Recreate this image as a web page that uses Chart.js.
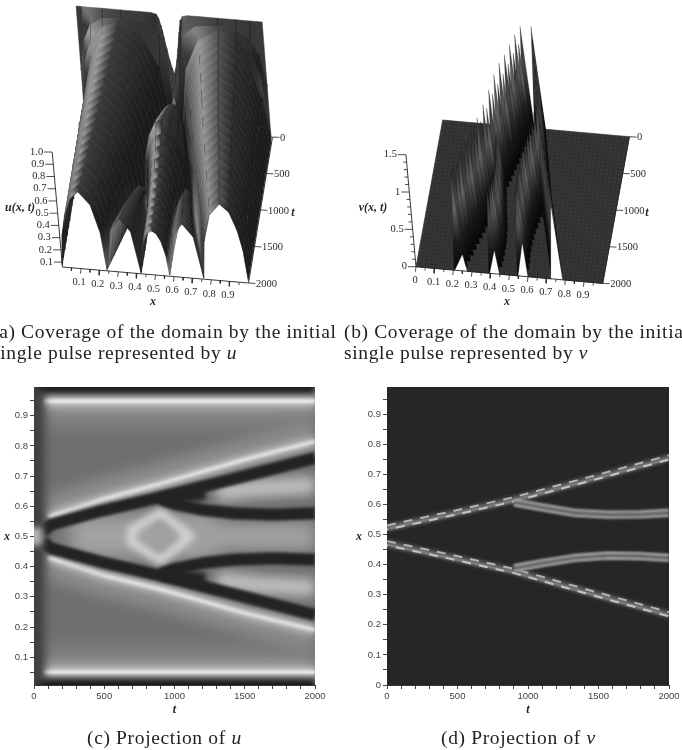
<!DOCTYPE html>
<html>
<head>
<meta charset="utf-8">
<title>Projection of u and v</title>
<script src="https://cdn.jsdelivr.net/npm/chart.js@4/dist/chart.umd.min.js"></script>
<style>
html,body{margin:0;padding:0;background:#fff;width:682px;height:750px;overflow:hidden}
canvas{position:absolute;left:0;top:0}
.cap{position:absolute;white-space:nowrap;font-family:"Liberation Serif",serif;font-size:19.5px;color:#222;letter-spacing:.65px}
</style>
</head>
<body>
<canvas id="panelA" width="682" height="750"></canvas>
<canvas id="panelB" width="682" height="750"></canvas>
<canvas id="panelC" width="682" height="750"></canvas>
<canvas id="panelD" width="682" height="750"></canvas>
<div class="cap" style="left:-8px;top:321px">(a) Coverage of the domain by the initial</div>
<div class="cap" style="left:-8px;top:342px">single pulse represented by <i>u</i></div>
<div class="cap" style="left:344px;top:321px">(b) Coverage of the domain by the initial</div>
<div class="cap" style="left:344px;top:342px">single pulse represented by <i>v</i></div>
<div class="cap" style="left:87px;top:727px">(c) Projection of <i>u</i></div>
<div class="cap" style="left:441px;top:727px">(d) Projection of <i>v</i></div>
<script>
// surface u: time slices, left half only (right half is the mirror image)
var uSliceT = [0,40,80,120,200,300,400,500,600,700,800,900,1000,1100,1200,1300,1400,1500,1600,1700,1800,1900,2000];
var uKnotX = [
	[0,.03,.07,.14,.24,.34,.4,.43,.44,.45,.455,.46,.47,.48,.49,.5],
	[0,.03,.07,.14,.24,.36,.44,.48,.48,.48,.48,.48,.484,.488,.494,.5],
	[0,.028,.07,.14,.235,.35,.43,.47,.47,.47,.47,.47,.475,.482,.491,.5],
	[0,.028,.069,.138,.23,.345,.423,.46,.46,.46,.46,.46,.466,.476,.488,.5],
	[0,.027,.067,.135,.225,.337,.413,.449,.449,.449,.449,.449,.457,.469,.485,.5],
	[0,.027,.066,.132,.22,.329,.403,.438,.438,.438,.438,.438,.448,.463,.482,.5],
	[0,.026,.064,.128,.214,.32,.393,.427,.427,.427,.427,.427,.438,.456,.478,.5],
	[0,.025,.063,.125,.209,.312,.383,.416,.416,.416,.416,.416,.429,.45,.475,.5],
	[0,.024,.061,.122,.203,.304,.373,.405,.405,.405,.405,.405,.419,.443,.472,.5],
	[0,.024,.06,.119,.198,.296,.363,.395,.395,.395,.395,.395,.41,.437,.469,.5],
	[0,.023,.058,.115,.192,.288,.353,.384,.384,.384,.384,.384,.401,.43,.465,.5],
	[0,.022,.056,.112,.187,.28,.343,.373,.373,.373,.373,.373,.392,.424,.462,.5],
	[0,.022,.054,.109,.181,.272,.333,.362,.369,.379,.388,.395,.411,.437,.469,.5],
	[0,.021,.053,.105,.175,.263,.322,.35,.36,.376,.391,.402,.417,.441,.471,.5],
	[0,.02,.051,.101,.169,.253,.31,.337,.352,.374,.395,.41,.424,.446,.473,.5],
	[0,.02,.049,.098,.163,.244,.299,.325,.343,.37,.397,.415,.428,.449,.475,.5],
	[0,.019,.047,.094,.156,.234,.287,.312,.334,.366,.398,.42,.432,.452,.476,.5],
	[0,.018,.045,.09,.15,.225,.276,.3,.325,.361,.397,.422,.434,.453,.477,.5],
	[0,.017,.043,.086,.144,.216,.265,.288,.315,.356,.396,.423,.435,.454,.477,.5],
	[0,.017,.042,.083,.138,.207,.254,.276,.306,.35,.393,.423,.435,.454,.477,.5],
	[0,.016,.04,.079,.132,.198,.243,.264,.296,.344,.391,.423,.435,.454,.477,.5],
	[0,.015,.038,.076,.126,.189,.232,.252,.287,.338,.388,.423,.435,.454,.477,.5],
	[0,.014,.036,.072,.12,.18,.221,.24,.277,.332,.386,.423,.435,.454,.477,.5]
];
var uKnotU = [
	[1,1,1,1,1,1,1,.99,.96,.9,.86,.81,.72,.63,.56,.51],
	[.5,.75,.88,.94,.96,.94,.85,.3,.3,.3,.3,.3,.32,.33,.34,.35],
	[.1,.6,.78,.9,.95,.85,.6,.15,.15,.15,.15,.15,.2,.26,.29,.3],
	[.08,.431,.658,.862,.95,.809,.492,.07,.07,.07,.07,.07,.176,.246,.287,.3],
	[.08,.427,.651,.853,.94,.801,.488,.07,.07,.07,.07,.07,.213,.307,.363,.38],
	[.08,.42,.641,.84,.925,.789,.48,.07,.07,.07,.07,.07,.241,.353,.42,.44],
	[.08,.414,.631,.826,.91,.776,.473,.07,.07,.07,.07,.07,.268,.399,.476,.5],
	[.08,.409,.622,.815,.898,.766,.467,.07,.07,.07,.07,.07,.287,.43,.514,.54],
	[.08,.404,.614,.804,.885,.755,.461,.07,.07,.07,.07,.07,.305,.46,.552,.58],
	[.08,.398,.604,.79,.87,.742,.454,.07,.07,.07,.07,.07,.321,.487,.585,.615],
	[.08,.392,.594,.777,.855,.729,.447,.07,.07,.07,.07,.07,.337,.514,.618,.65],
	[.08,.386,.584,.763,.84,.717,.44,.07,.07,.07,.07,.07,.351,.537,.646,.68],
	[.08,.382,.578,.754,.83,.708,.435,.07,.131,.15,.131,.07,.323,.491,.59,.62],
	[.08,.375,.568,.74,.815,.696,.428,.07,.19,.225,.19,.07,.307,.464,.557,.585],
	[.08,.369,.558,.727,.8,.683,.42,.07,.246,.3,.246,.07,.291,.437,.524,.55],
	[.08,.363,.548,.713,.785,.67,.413,.07,.277,.34,.277,.07,.28,.418,.5,.525],
	[.08,.357,.538,.7,.77,.658,.406,.07,.307,.38,.307,.07,.268,.399,.476,.5],
	[.08,.351,.528,.686,.755,.645,.399,.07,.326,.405,.326,.07,.258,.384,.458,.48],
	[.08,.345,.518,.673,.74,.633,.392,.07,.345,.43,.345,.07,.249,.368,.439,.46],
	[.08,.338,.508,.66,.725,.62,.385,.07,.36,.45,.36,.07,.245,.36,.43,.45],
	[.08,.332,.498,.646,.71,.608,.377,.07,.376,.47,.376,.07,.24,.353,.42,.44],
	[.08,.328,.491,.637,.7,.6,.372,.07,.388,.485,.388,.07,.236,.345,.41,.43],
	[.08,.324,.484,.628,.69,.591,.368,.07,.399,.5,.399,.07,.231,.338,.401,.42]
];

// surface v: narrow spikes on a flat floor
var vSpikeT = [20,100,180,260,340,420,500,580,660,740,820,900,980,1060,1140,1220,1300,1380,1460,1540,1620,1700,1780,1860,1940,2000];
var vLowerX = [.465,.457,.449,.441,.433,.425,.418,.41,.402,.394,.386,.378,.368,.357,.347,.336,.326,.315,.305,.294,.284,.273,.263,.252,.242,.234];
var vLowerH = [1.38,1.22,1.42,1.25,1.44,1.26,1.46,1.28,1.5,1.3,1.5,1.32,1.45,1.28,1.4,1.26,1.38,1.3,1.36,1.3,1.36,1.32,1.35,1.32,1.35,1.33];
var vUpperX = [.524,.533,.541,.55,.558,.567,.576,.584,.593,.601,.61,.616,.626,.636,.646,.656,.667,.677,.687,.697,.707,.717,.727,.737,.747,.755];
var vUpperH = [1.39,1.3,1.35,1.25,1.3,1.22,1.3,1.22,1.32,1.25,1.35,1.3,1.2,1.15,1.2,1.15,1.2,1.18,1.25,1.2,1.25,1.22,1.3,1.25,1.3,1.3];
var vBranchT = [940,1020,1100,1180,1260,1340,1420,1500,1580,1660,1740,1820,1900,2000];
var vBranchLowX = [.383,.388,.394,.4,.408,.414,.42,.424,.428,.43,.43,.428,.425,.42];
var vBranchLowH = [.85,.86,.88,.9,.93,.95,.98,1,1.03,1.05,1.08,1.1,1.12,1.15];
var vBranchUpX = [.613,.605,.598,.59,.584,.578,.572,.568,.566,.565,.566,.568,.57,.572];
var vBranchUpH = [1.25,1.24,1.22,1.2,1.2,1.18,1.17,1.16,1.15,1.15,1.15,1.15,1.15,1.15];
// white notches at the front edge of the floor: left x, tip x, right x, tip t
var vNotchLeft = [.209,.396,.548,.727];
var vNotchTipX = [.233,.398,.539,.656];
var vNotchRight = [.273,.446,.598,.784];
var vNotchTipT = [1788,1702,1576,1058];

// axis ticks
var uTicks = [.1,.2,.3,.4,.5,.6,.7,.8,.9,1];
var uTickText = ["0.1","0.2","0.3","0.4","0.5","0.6","0.7","0.8","0.9","1.0"];
var xTicks3d = [.1,.2,.3,.4,.5,.6,.7,.8,.9];
var xMinor3d = [.05,.15,.25,.35,.45,.55,.65,.75,.85,.95];
var tTicks3d = [0,500,1000,1500,2000];
var vTicks = [0,.5,1,1.5];
var vTickText = ["0","0.5","1","1.5"];
var vMinor = [.1,.2,.3,.4,.6,.7,.8,.9,1.1,1.2,1.3,1.4];
var tAxisTicks = [0,100,200,300,400,500,600,700,800,900,1000,1100,1200,1300,1400,1500,1600,1700,1800,1900,2000];
var xAxisTicksC = [.05,.1,.15,.2,.25,.3,.35,.4,.45,.5,.55,.6,.65,.7,.75,.8,.85,.9,.95];
var xAxisTicksD = [0,.05,.1,.15,.2,.25,.3,.35,.4,.45,.5,.55,.6,.65,.7,.75,.8,.85,.9,.95];

// panel c: tracks of the bands, t then x
var cTrackT = [100,500,900,1500,2000];
var cUpperWhite = [.565,.625,.675,.755,.815];
var cLowerWhite = [.43,.37,.325,.246,.19];
var cDarkT = [60,120,480,900,1500,2000];
var cUpperDark = [.515,.539,.585,.63,.7,.76];
var cLowerDark = [.485,.461,.415,.37,.3,.24];
var cBranchT = [900,1000,1200,1420,1700,2000];
var cUpperBranch = [.625,.607,.588,.577,.572,.577];
var cLowerBranch = [.375,.393,.412,.423,.428,.423];
var cWedgeT = [900,1050,1220];
var cUpperWedge = [.625,.63,.638];
var cLowerWedge = [.375,.37,.362];
var cDiamondT = [695,800,900,1110,900,800,695,695];
var cDiamondX = [.48,.45,.42,.5,.58,.55,.52,.48];
var cLobeT = [1300,1600,2000];
var cUpperLobe = [.645,.66,.67];
var cLowerLobe = [.355,.34,.33];

// panel d: tracks of the ridges
var dMainT = [0,450,900,1450,2000];
var dUpperRidge = [.522,.568,.616,.685,.755];
var dLowerRidge = [.47,.425,.378,.305,.234];
var dBranchT = [900,1100,1330,1560,1800,2000];
var dUpperBranch = [.607,.59,.572,.566,.567,.572];
var dLowerBranch = [.388,.405,.422,.43,.428,.422];

var serifTick = "10.5px 'Liberation Serif'";
var axisBold = "bold italic 12px 'Liberation Serif'";

// draws tick labels and axis letters, positions go through the chart's scales
var textPlugin = {
	id: 'panelText',
	afterDraw: function(chart, args, opts) {
		var ctx = chart.ctx;
		ctx.save();
		ctx.textBaseline = 'middle';
		opts.items.forEach(function(it) {
			ctx.font = it.font;
			ctx.fillStyle = it.color || '#2a2a2a';
			ctx.textAlign = it.align || 'center';
			var px = opts.raw ? it.x : chart.scales.x.getPixelForValue(it.x);
			var py = opts.raw ? it.y : chart.scales.y.getPixelForValue(it.y);
			ctx.fillText(it.text, px, py);
		});
		ctx.restore();
	}
};

// soft edges for the projection bands
var blurPlugin = {
	id: 'bandBlur',
	beforeDatasetDraw: function(chart, args) {
		var ds = chart.data.datasets[args.index];
		chart.ctx.save();
		if (ds.blur) chart.ctx.filter = 'blur(' + ds.blur + 'px)';
	},
	afterDatasetDraw: function(chart) {
		chart.ctx.restore();
	}
};

var areaColor = {
	id: 'areaColor',
	beforeDatasetsDraw: function(chart, args, opts) {
		var a = chart.chartArea;
		chart.ctx.fillStyle = opts.color;
		chart.ctx.fillRect(a.left, a.top, a.width, a.height);
	}
};

function oblique(o, ax, at, az, base) {
	return function(x, t, z) {
		var f = 1 - t / 2000;
		return { x: o[0] + ax[0] * x + at[0] * f + az[0] * (z - base), y: o[1] + ax[1] * x + at[1] * f + az[1] * (z - base) };
	};
}
var projU = oblique([62.5, 267], [186, 16], [24, -146], [-11, -122.3], .06);
var projV = oblique([416, 266.7], [186.7, 16.7], [26.7, -146.7], [-6.7, -74.7], 0);

function lineSet(pts, color, width, extra) {
	var d = { data: pts, showLine: true, borderColor: color, borderWidth: width, pointRadius: 0, fill: false, clip: false };
	return Object.assign(d, extra || {});
}
function polySet(pts, color, edge, edgeWidth) {
	return { data: pts, showLine: true, backgroundColor: color, borderColor: edge, borderWidth: edgeWidth, pointRadius: 0, fill: 'shape', clip: false };
}

function pixelOptions(items) {
	return {
		responsive: false, animation: false, events: [],
		layout: { padding: 0 },
		scales: {
			x: { type: 'linear', min: 0, max: 682, display: false },
			y: { type: 'linear', min: 0, max: 750, reverse: true, display: false }
		},
		plugins: { legend: { display: false }, tooltip: { enabled: false }, panelText: { items: items } }
	};
}

function grayOf(g) {
	g = Math.round(g);
	return 'rgb(' + g + ',' + g + ',' + g + ')';
}

// shade at a surface knot from its slope across x, light comes from the left
function knotGray(slope, slopeT) {
	if (slopeT > .004) return 56;
	if (slope <= 0) return slope > -1 ? 62 + slope * 14 : Math.max(26, 48 + (slope + 1) * 4);
	if (slope < 1.5) return 62 + slope * 68;
	if (slope < 3) return 164 - (slope - 1.5) * 10;
	return Math.max(30, 149 - (slope - 3) * 15);
}

function fullRow(row, flip) {
	var back = row.slice(0, -1).reverse();
	return row.concat(flip ? back.map(function(v) { return 1 - v; }) : back);
}

function rowSlope(xs, us, j) {
	var lo = Math.max(j - 1, 0), hi = Math.min(j + 1, xs.length - 1);
	var dx = xs[hi] - xs[lo];
	return dx > 1e-4 ? (us[hi] - us[lo]) / dx : 0;
}

// ---- panel a
function surfaceSets() {
	var sets = [];
	var paint = document.getElementById('panelA').getContext('2d');
	var xs = uKnotX.map(function(r) { return fullRow(r, true); });
	var us = uKnotU.map(function(r) { return fullRow(r, false); });
	for (var i = 0; i < uSliceT.length - 1; i++) {
		var t0 = uSliceT[i], t1 = uSliceT[i + 1];
		var st = [];
		for (var j = 0; j < xs[i].length; j++) st.push((us[i][j] - us[i + 1][j]) / (t1 - t0));
		for (j = 0; j < xs[i].length - 1; j++) {
			if (xs[i][j + 1] - xs[i][j] < 1e-4 && xs[i + 1][j + 1] - xs[i + 1][j] < 1e-4) continue;
			var a = projU(xs[i][j], t0, us[i][j]), b = projU(xs[i][j + 1], t0, us[i][j + 1]);
			var c = projU(xs[i + 1][j + 1], t1, us[i + 1][j + 1]), d = projU(xs[i + 1][j], t1, us[i + 1][j]);
			var gl = (knotGray(rowSlope(xs[i], us[i], j), st[j]) + knotGray(rowSlope(xs[i + 1], us[i + 1], j), st[j])) / 2;
			var gr = (knotGray(rowSlope(xs[i], us[i], j + 1), st[j + 1]) + knotGray(rowSlope(xs[i + 1], us[i + 1], j + 1), st[j + 1])) / 2;
			var grad = paint.createLinearGradient((a.x + d.x) / 2, (a.y + d.y) / 2, (b.x + c.x) / 2, (b.y + c.y) / 2);
			grad.addColorStop(0, grayOf(gl));
			grad.addColorStop(1, grayOf(gr));
			sets.push(polySet([a, b, c, d, a], grad, grad, .5));
			sets.push(lineSet([a, d], 'rgba(15,15,15,.28)', .5));
		}
		var arc = xs[i + 1].map(function(x, j) { return projU(x, t1, us[i + 1][j]); });
		sets.push(lineSet(arc, 'rgba(15,15,15,.5)', .6));
	}
	return sets;
}

function axisSetsA(items) {
	var sets = [];
	var add = function(p, dx, dy) { sets.push(lineSet([p, { x: p.x + dx, y: p.y + dy }], '#222', .8)); };
	sets.push(lineSet([projU(0, 2000, .06), projU(0, 2000, 1)], '#222', .9));
	sets.push(lineSet([projU(0, 2000, .06), projU(1, 2000, .06)], '#222', .9));
	sets.push(lineSet([projU(1, 2000, .06), projU(1, 0, .06)], '#222', .9));
	uTicks.forEach(function(u, i) {
		var p = projU(0, 2000, u);
		add(p, -8, 0);
		items.push({ text: uTickText[i], x: p.x - 9, y: p.y, font: serifTick, align: 'right' });
	});
	xTicks3d.forEach(function(x) {
		var p = projU(x, 2000, .06);
		add(p, -.6, 5);
		items.push({ text: String(x), x: p.x - 2, y: p.y + 14, font: serifTick });
	});
	xMinor3d.forEach(function(x) { add(projU(x, 2000, .06), -.4, 3); });
	tTicks3d.forEach(function(t) {
		var p = projU(1, t, .06);
		add(p, 7, .4);
		items.push({ text: String(t), x: p.x + 7.5, y: p.y + 1, font: serifTick, align: 'left' });
	});
	return sets;
}

var itemsA = [
	{ text: 'u(x, t)', x: 20, y: 208, font: axisBold },
	{ text: 'x', x: 153, y: 302, font: axisBold },
	{ text: 't', x: 293, y: 213, font: axisBold }
];
var axesA = axisSetsA(itemsA);
new Chart(document.getElementById('panelA'), {
	type: 'scatter',
	data: { datasets: axesA.concat(surfaceSets().reverse()) },
	options: pixelOptions(itemsA),
	plugins: [textPlugin]
});

// ---- panel b
function spikeGradient(p0, p1, v) {
	var g = document.getElementById('panelB').getContext('2d').createLinearGradient(p0.x, p0.y, p1.x, p1.y);
	g.addColorStop(0, '#060606');
	g.addColorStop(.28, '#1a1a1a');
	g.addColorStop(.62, grayOf(v));
	g.addColorStop(.92, grayOf(v * .8));
	g.addColorStop(1, '#303030');
	return g;
}

function floorAndSpikes() {
	var sets = [];
	var corners = [projV(0, 2000, 0), projV(1, 2000, 0), projV(1, 0, 0), projV(0, 0, 0), projV(0, 2000, 0)];
	sets.push(polySet(corners, '#363636', '#2a2a2a', .6));
	for (var k = 1; k < 40; k++) {
		sets.push(lineSet([projV(k / 40, 0, 0), projV(k / 40, 2000, 0)], '#2a2a2a', .5));
		sets.push(lineSet([projV(0, k * 50, 0), projV(1, k * 50, 0)], '#2a2a2a', .5));
	}
	var spikes = [];
	var grays = [84, 116, 70, 136, 96, 76];
	var addRidge = function(ts, xs, hs, w) {
		ts.forEach(function(t, i) {
			spikes.push({ t: t, x: xs[i], h: hs[i], w: w, gray: grays[(i + spikes.length) % grays.length] });
		});
	};
	addRidge(vSpikeT, vUpperX, vUpperH, .03);
	addRidge(vSpikeT, vLowerX, vLowerH, .03);
	addRidge(vBranchT, vBranchUpX, vBranchUpH, .03);
	addRidge(vBranchT, vBranchLowX, vBranchLowH, .03);
	spikes.sort(function(a, b) { return a.t - b.t; });
	spikes.forEach(function(s) {
		var l = projV(s.x - s.w, s.t, 0), r = projV(s.x + s.w, s.t, 0), tip = projV(s.x, s.t, s.h);
		sets.push(polySet([l, tip, r, l], spikeGradient(projV(s.x, s.t, 0), tip, s.gray), 'rgba(10,10,10,.5)', .4));
	});
	vNotchLeft.forEach(function(x, i) {
		var a = projV(x, 2000, 0), b = projV(vNotchTipX[i], vNotchTipT[i], 0), c = projV(vNotchRight[i], 2000, 0);
		sets.push(polySet([a, b, c, { x: c.x, y: c.y + 1 }, { x: a.x, y: a.y + 1 }, a], '#ffffff', '#ffffff', .3));
	});
	return sets;
}

function axisSetsB(items) {
	var sets = [];
	var add = function(p, dx, dy) { sets.push(lineSet([p, { x: p.x + dx, y: p.y + dy }], '#222', .8)); };
	sets.push(lineSet([projV(0, 2000, 0), projV(0, 2000, 1.5)], '#222', .9));
	sets.push(lineSet([projV(0, 2000, 0), projV(1, 2000, 0)], '#222', .9));
	sets.push(lineSet([projV(1, 2000, 0), projV(1, 0, 0)], '#222', .9));
	vTicks.forEach(function(v, i) {
		var p = projV(0, 2000, v);
		add(p, -8, 0);
		items.push({ text: vTickText[i], x: p.x - 9, y: p.y, font: serifTick, align: 'right' });
	});
	vMinor.forEach(function(v) { add(projV(0, 2000, v), -3.5, 0); });
	items.push({ text: '0', x: projV(0, 2000, 0).x - 1, y: projV(0, 2000, 0).y + 14, font: serifTick });
	xTicks3d.forEach(function(x) {
		var p = projV(x, 2000, 0);
		add(p, -.6, 5);
		items.push({ text: String(x), x: p.x - 1, y: p.y + 14, font: serifTick });
	});
	add(projV(0, 2000, 0), -.6, 5);
	xMinor3d.forEach(function(x) { add(projV(x, 2000, 0), -.4, 3); });
	tTicks3d.forEach(function(t) {
		var p = projV(1, t, 0);
		add(p, 7, .4);
		items.push({ text: String(t), x: p.x + 7.5, y: p.y + 1, font: serifTick, align: 'left' });
	});
	return sets;
}

var itemsB = [
	{ text: 'v(x, t)', x: 373, y: 208, font: axisBold },
	{ text: 'x', x: 507, y: 302, font: axisBold },
	{ text: 't', x: 647, y: 213, font: axisBold }
];
var axesB = axisSetsB(itemsB);
new Chart(document.getElementById('panelB'), {
	type: 'scatter',
	data: { datasets: axesB.concat(floorAndSpikes().reverse()) },
	options: pixelOptions(itemsB),
	plugins: [textPlugin]
});

// ---- panels c and d share their axes setup
function track(ts, xs) {
	return ts.map(function(t, i) { return { x: t, y: xs[i] }; });
}
function band(ts, xs, width, color, blur, extra) {
	var d = lineSet(track(ts, xs), color, width, { blur: blur, borderCapStyle: 'butt', borderJoinStyle: 'round' });
	delete d.clip;
	return Object.assign(d, extra || {});
}

function projectionOptions(box, yMin, yMax, yTicks, letterX, background) {
	var tickFont = { family: "'Liberation Sans'", size: 9.5 };
	return {
		responsive: false, animation: false, events: [],
		layout: { padding: { left: box.left - 30, right: 682 - box.right, top: box.top, bottom: 750 - box.bottom - 32 } },
		scales: {
			x: {
				type: 'linear', min: 0, max: 2000,
				afterBuildTicks: function(s) { s.ticks = tAxisTicks.map(function(v) { return { value: v }; }); },
				afterFit: function(s) { s.height = 32; s.paddingLeft = 0; s.paddingRight = 0; },
				ticks: {
					autoSkip: false, maxRotation: 0, padding: 2, color: '#444', font: tickFont,
					callback: function(v) { return v % 500 === 0 ? String(v) : ''; }
				},
				grid: { drawOnChartArea: false, tickLength: 4, tickColor: '#444' },
				border: { color: '#333' },
				title: { display: true, text: 't', padding: { top: -2, bottom: 0 }, color: '#222', font: { family: "'Liberation Serif'", size: 12, style: 'italic', weight: 'bold' } }
			},
			y: {
				type: 'linear', min: yMin, max: yMax,
				afterBuildTicks: function(s) { s.ticks = yTicks.map(function(v) { return { value: v }; }); },
				afterFit: function(s) { s.width = 30; s.paddingTop = 0; s.paddingBottom = 0; },
				ticks: {
					autoSkip: false, padding: 2, color: '#444', font: tickFont,
					callback: function(v) {
						var r = Math.round(v * 100);
						if (r % 10 !== 0) return '';
						return r === 0 ? '0' : (r / 100).toFixed(1);
					}
				},
				grid: { drawOnChartArea: false, tickLength: 4, tickColor: '#444' },
				border: { color: '#333' }
			}
		},
		plugins: {
			legend: { display: false }, tooltip: { enabled: false },
			areaColor: { color: background },
			panelText: { raw: true, items: [{ text: 'x', x: letterX, y: 537, font: axisBold }] }
		}
	};
}

function edgeLayers(xWhite, xDark, tStart) {
	var t = [tStart, 2000], w = [xWhite, xWhite], k = [xDark, xDark];
	var glowShift = xWhite > .5 ? -.03 : .03;
	var g = [xWhite + glowShift, xWhite + glowShift];
	return [
		band(t, g, 36, '#828282', 9),
		band(t, w, 20, '#a2a2a2', 5),
		band(t, w, 9, '#c4c4c4', 2.5),
		band(t, w, 3.5, '#eeeeee', 1.3),
		band([0, 2000], k, 14, '#1a1a1a', 3.2)
	];
}

var layersC = [];
layersC = layersC.concat(edgeLayers(.949, .996, 70), edgeLayers(.05, .006, 70));
layersC.push(band(cTrackT, cUpperWhite.map(function(v) { return v + .03; }), 24, '#8c8c8c', 7));
layersC.push(band(cTrackT, cLowerWhite.map(function(v) { return v - .03; }), 24, '#8c8c8c', 7));
layersC.push(band(cTrackT, cUpperWhite, 12, '#b4b4b4', 3.4));
layersC.push(band(cTrackT, cLowerWhite, 12, '#b4b4b4', 3.4));
layersC.push(band(cTrackT, cUpperWhite, 3.5, '#e8e8e8', 1.4));
layersC.push(band(cTrackT, cLowerWhite, 3.5, '#e8e8e8', 1.4));
// light centre wedge and the diamond
layersC.push(band([250, 700, 1300], [.5, .5, .5], 44, '#a4a4a4', 10));
layersC.push(band([1000, 1500, 2000], [.5, .5, .5], 28, '#a0a0a0', 7));
layersC.push(band(cDiamondT, cDiamondX, 9, '#d4d4d4', 3.6));
layersC.push(band([820, 900, 980], [.5, .5, .5], 14, '#a0a0a0', 5));
layersC.push(band(cLobeT, cUpperLobe, 18, '#c0c0c0', 6));
layersC.push(band(cLobeT, cLowerLobe, 18, '#c0c0c0', 6));
layersC.push(band(cWedgeT, cUpperWedge, 11, '#232323', 2.4));
layersC.push(band(cWedgeT, cLowerWedge, 11, '#232323', 2.4));
layersC.push(band(cDarkT, cUpperDark, 12, '#232323', 1.4));
layersC.push(band(cDarkT, cLowerDark, 12, '#232323', 1.4));
layersC.push(band(cBranchT, cUpperBranch, 12, '#232323', 1.4));
layersC.push(band(cBranchT, cLowerBranch, 12, '#232323', 1.4));
// dark strip at t = 0 with the light spot in the middle
layersC.push(band([15, 15], [.008, .995], 16, '#3c3c3c', 5));
layersC.push(band([8, 8], [.47, .53], 14, '#b4b4b4', 3));

var boxC = { left: 34, right: 315, top: 387, bottom: 685 };
new Chart(document.getElementById('panelC'), {
	type: 'scatter',
	data: { datasets: layersC.slice().reverse() },
	options: projectionOptions(boxC, .008, .995, xAxisTicksC, 7, '#6f6f6f'),
	plugins: [areaColor, blurPlugin, textPlugin]
});

function shifted(xs, d) {
	return xs.map(function(v) { return v + d; });
}
var layersD = [];
[dUpperRidge, dLowerRidge].forEach(function(ridge) {
	layersD.push(band(dMainT, ridge, 8, '#505050', 1.8));
	layersD.push(band(dMainT, shifted(ridge, -.003), 2.4, '#8e8e8e', .8));
	layersD.push(band(dMainT, shifted(ridge, .008), 2, '#b4b4b4', .6, { borderDash: [9, 8] }));
	layersD.push(band(dMainT, shifted(ridge, -.006), 2, '#c4c4c4', .6, { borderDash: [9, 8], borderDashOffset: 8 }));
});
[dUpperBranch, dLowerBranch].forEach(function(ridge) {
	layersD.push(band(dBranchT, ridge, 8, '#626262', 1.4));
	layersD.push(band(dBranchT, shifted(ridge, .009), 1.8, '#b8b8b8', .8));
	layersD.push(band(dBranchT, shifted(ridge, -.009), 1.8, '#b8b8b8', .8));
});

var boxD = { left: 387, right: 669, top: 387, bottom: 685 };
new Chart(document.getElementById('panelD'), {
	type: 'scatter',
	data: { datasets: layersD.slice().reverse() },
	options: projectionOptions(boxD, 0, .99, xAxisTicksD, 359, '#262626'),
	plugins: [areaColor, blurPlugin, textPlugin]
});
</script>
</body>
</html>
